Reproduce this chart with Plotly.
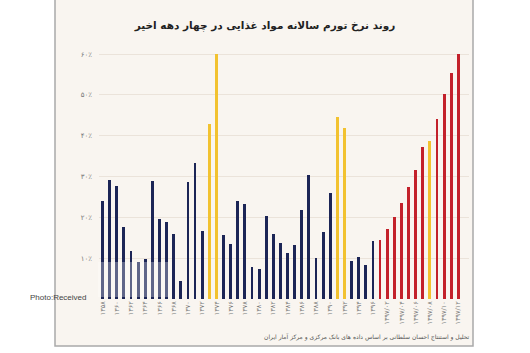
import plotly.graph_objects as go

# ---- data ----
labels = [
    "۱۳۵۸", "۱۳۵۹", "۱۳۶۰", "۱۳۶۱", "۱۳۶۲", "۱۳۶۳", "۱۳۶۴", "۱۳۶۵", "۱۳۶۶", "۱۳۶۷",
    "۱۳۶۸", "۱۳۶۹", "۱۳۷۰", "۱۳۷۱", "۱۳۷۲", "۱۳۷۳", "۱۳۷۴", "۱۳۷۵", "۱۳۷۶", "۱۳۷۷",
    "۱۳۷۸", "۱۳۷۹", "۱۳۸۰", "۱۳۸۱", "۱۳۸۲", "۱۳۸۳", "۱۳۸۴", "۱۳۸۵", "۱۳۸۶", "۱۳۸۷",
    "۱۳۸۸", "۱۳۸۹", "۱۳۹۰", "۱۳۹۱", "۱۳۹۲", "۱۳۹۳", "۱۳۹۴", "۱۳۹۵", "۱۳۹۶",
    "۱۳۹۷/۰۱", "۱۳۹۷/۰۲", "۱۳۹۷/۰۳", "۱۳۹۷/۰۴", "۱۳۹۷/۰۵", "۱۳۹۷/۰۶",
    "۱۳۹۷/۰۷", "۱۳۹۷/۰۸", "۱۳۹۷/۰۹", "۱۳۹۷/۱۰", "۱۳۹۷/۱۱", "۱۳۹۷/۱۲",
]
food_inflation = [
    24.1, 29.2, 27.7, 17.7, 11.8, 9.1, 9.8, 28.9, 19.5, 18.9,
    15.9, 4.3, 28.7, 33.4, 16.7, 42.9, 60.0, 15.8, 13.6, 23.9,
    23.2, 7.9, 7.3, 20.4, 15.9, 13.7, 11.3, 13.2, 21.9, 30.3,
    10.0, 16.5, 26.0, 44.5, 41.8, 9.2, 10.4, 8.3, 14.1,
    14.5, 17.2, 20.2, 23.5, 27.5, 31.7, 37.3, 38.6, 44.0, 50.2, 55.4, 60.0,
]
highlighted = ["۱۳۷۳", "۱۳۷۴", "۱۳۹۱", "۱۳۹۲", "۱۳۹۷/۰۸"]
recent = labels[39:]
ytick_vals = [10, 20, 30, 40, 50, 60]
ytick_text = ["۱۰٪", "۲۰٪", "۳۰٪", "۴۰٪", "۵۰٪", "۶۰٪"]

title = "روند نرخ تورم سالانه مواد غذایی در چهار دهه اخیر"
source = "تحلیل و استنتاج احسان سلطانی بر اساس داده های بانک مرکزی و مرکز آمار ایران"

NAVY, GOLD, RED = "#1c2556", "#f2c230", "#c3212b"
colors = [GOLD if l in highlighted else (RED if l in recent else NAVY) for l in labels]

FONT = "DejaVu Sans"

fig = go.Figure(go.Bar(
    x=labels, y=food_inflation, marker=dict(color=colors, line=dict(width=0)),
    width=0.4,
))

# geometry helpers (pixel -> paper)
L, R, T, B = 99, 61, 46, 54
PW, PH = 530 - L - R, 353 - T - B
px = lambda p: (p - L) / PW
py = lambda p: (353 - B - p) / PH

fig.update_layout(
    width=530, height=353,
    margin=dict(l=L, r=R, t=T, b=B),
    paper_bgcolor="white",
    plot_bgcolor="rgba(0,0,0,0)",
    showlegend=False,
    bargap=0,
    font=dict(family=FONT, color="#666"),
    title=dict(text=title, x=0.5, xanchor="center", y=1 - 25 / 353, yanchor="middle",
               font=dict(family=FONT, size=10.5, color="#222", weight="bold")),
    xaxis=dict(type="category", range=[-0.5, 51.5], tickangle=-90, showgrid=False,
               showline=False, ticks="", tickfont=dict(size=6.5, color="#777")),
    yaxis=dict(range=[0, 62], tickvals=ytick_vals, ticktext=ytick_text, showgrid=True,
               gridcolor="#ebe3da", gridwidth=1, zeroline=False, showline=False, ticks="",
               ticklabelstandoff=6, tickfont=dict(size=7, color="#777")),
    shapes=[
        dict(type="rect", xref="paper", yref="paper", x0=px(55), x1=px(473),
             y0=py(346), y1=py(-5), fillcolor="#f9f5f0",
             line=dict(color="#a9a9a9", width=1.5), layer="below"),
        dict(type="rect", xref="paper", yref="paper", x0=px(98), x1=px(172),
             y0=py(297), y1=py(262), fillcolor="rgba(255,255,255,0.3)",
             line=dict(width=0), layer="above"),
    ],
    annotations=[
        dict(text=source, xref="paper", yref="paper", x=px(472), y=py(337),
             xanchor="right", yanchor="middle", showarrow=False,
             font=dict(family=FONT, size=6, color="#555")),
        dict(text="Photo:Received", xref="paper", yref="paper", x=px(28), y=py(297),
             xanchor="left", yanchor="middle", showarrow=False,
             font=dict(family="Liberation Sans", size=8, color="#444")),
    ],
)

fig.write_html("out.html")
